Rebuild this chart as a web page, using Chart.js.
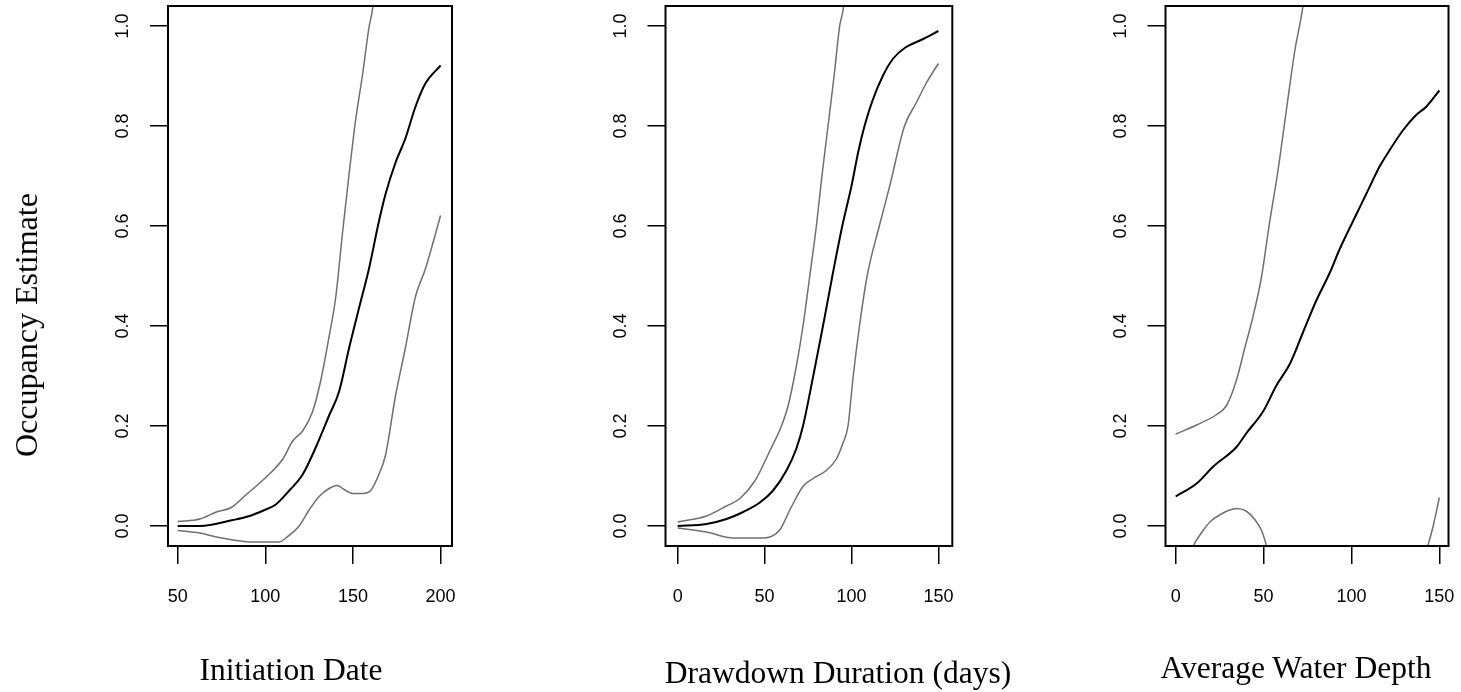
<!DOCTYPE html>
<html><head><meta charset="utf-8">
<script src="https://cdn.jsdelivr.net/npm/chart.js@4.4.1/dist/chart.umd.min.js"></script>
<style>
html,body{margin:0;padding:0;background:#fff;}
#wrap{position:relative;width:1461px;height:692px;overflow:hidden;background:#fff;}
canvas{position:absolute;top:0;}
.t{position:absolute;font-family:'Liberation Serif','Times New Roman',serif;font-size:31.5px;line-height:1;white-space:nowrap;color:#000;}
</style></head><body>
<div id="wrap">
<canvas id="c1" width="480" height="692" style="left:0px"></canvas>
<canvas id="c2" width="480" height="692" style="left:490px"></canvas>
<canvas id="c3" width="481" height="692" style="left:980px"></canvas>
<div class="t" style="left:26px;top:325px;font-size:32px;transform:translate(-50%,-50%) rotate(-90deg)">Occupancy Estimate</div>
<div class="t" style="left:291px;top:653.6px;transform:translateX(-50%)">Initiation Date</div>
<div class="t" style="left:838px;top:656.6px;transform:translateX(-50%)">Drawdown Duration (days)</div>
<div class="t" style="left:1296px;top:651.6px;transform:translateX(-50%)">Average Water Depth</div>
</div>
<script>
// ---- tick values / labels ----
const yTicks = [0, 0.2, 0.4, 0.6, 0.8, 1.0];
const yTickLabels = ['0.0', '0.2', '0.4', '0.6', '0.8', '1.0'];
const initTicks = [50, 100, 150, 200];
const ddTicks = [0, 50, 100, 150];
const wdTicks = [0, 50, 100, 150];

// ---- Panel 1: Initiation Date ----
const initMeanX = [50, 62.7, 81.6, 91, 99.6, 106, 113.7, 121.3, 128.9, 136.4, 142.1, 147.8, 153.4, 159.1, 164.8, 168.6, 174.3, 179.9, 185.6, 191.3, 200];
const initMean  = [0.0, 0.0, 0.012, 0.02, 0.032, 0.043, 0.071, 0.103, 0.158, 0.221, 0.269, 0.356, 0.435, 0.514, 0.609, 0.664, 0.727, 0.775, 0.838, 0.885, 0.921];
const initUpperX = [50, 62.7, 72.1, 80.6, 89.2, 99.6, 110, 115.6, 121.3, 127, 131.7, 136.4, 140.2, 144, 147.8, 151.6, 155.4, 159.1, 161.4, 164];
const initUpper  = [0.009, 0.014, 0.028, 0.037, 0.063, 0.095, 0.134, 0.170, 0.190, 0.229, 0.292, 0.379, 0.458, 0.585, 0.704, 0.814, 0.901, 0.996, 1.04, 1.15];
const initLowerX = [50, 62.7, 72.1, 81.6, 91, 108, 111.7, 119.3, 125, 130.7, 136.4, 141.1, 144.9, 149.6, 155.4, 160.1, 164.8, 168.6, 174.3, 179.9, 185.6, 191.3, 200];
const initLower  = [-0.009, -0.014, -0.022, -0.028, -0.032, -0.032, -0.024, 0.0, 0.032, 0.059, 0.075, 0.081, 0.073, 0.065, 0.065, 0.071, 0.103, 0.142, 0.261, 0.356, 0.458, 0.514, 0.621];

// ---- Panel 2: Drawdown Duration (days) ----
const ddMeanX = [0, 16.6, 28.1, 37.7, 47.3, 54.9, 62.6, 68.3, 72.1, 78, 83.6, 89, 94.7, 100, 104, 107.5, 112, 118, 124, 131, 140, 150];
const ddMean  = [0.0, 0.004, 0.014, 0.028, 0.047, 0.071, 0.111, 0.155, 0.2, 0.3, 0.4, 0.5, 0.6, 0.68, 0.75, 0.8, 0.85, 0.9, 0.935, 0.957, 0.972, 0.99];
const ddUpperX = [0, 16.6, 28.1, 35.8, 44.4, 53, 59.7, 63.5, 68.3, 72.1, 76, 79.8, 83, 86.5, 90, 93.2, 95.5, 98];
const ddUpper  = [0.008, 0.02, 0.04, 0.055, 0.09, 0.15, 0.2, 0.24, 0.32, 0.4, 0.5, 0.6, 0.7, 0.8, 0.9, 1.0, 1.04, 1.15];
const ddLowerX = [0, 16.6, 32, 48.2, 58.7, 64.5, 72.1, 77.9, 85.5, 91.3, 95, 98, 101, 104.6, 109, 116, 122, 130.5, 137.2, 142.9, 150];
const ddLower  = [-0.004, -0.012, -0.024, -0.024, -0.008, 0.032, 0.079, 0.095, 0.111, 0.134, 0.165, 0.2, 0.3, 0.4, 0.5, 0.6, 0.68, 0.8, 0.846, 0.885, 0.925];

// ---- Panel 3: Average Water Depth ----
const wdMeanX = [0, 11.9, 21.4, 34.6, 40.3, 49.7, 57.3, 64.9, 72.4, 80, 87.6, 93.2, 100.8, 108.4, 116, 121.6, 129.2, 136.8, 142.4, 150];
const wdMean  = [0.059, 0.085, 0.119, 0.158, 0.186, 0.229, 0.281, 0.324, 0.387, 0.451, 0.506, 0.553, 0.609, 0.664, 0.719, 0.751, 0.791, 0.822, 0.838, 0.871];
const wdUpperX = [0, 11.9, 23.3, 28.9, 34.6, 39.3, 44, 48.8, 53.5, 58.2, 62.9, 67.7, 72.4, 76];
const wdUpper  = [0.184, 0.202, 0.223, 0.241, 0.292, 0.356, 0.419, 0.498, 0.609, 0.711, 0.830, 0.949, 1.04, 1.15];
const wdLowerX = [0, 5, 10, 15, 20, 25, 30, 34.7, 40, 45, 49, 51.7, 56, 70, 100, 130, 140, 143.4, 146.5, 150];
const wdLower  = [-0.16, -0.09, -0.04, -0.012, 0.01, 0.022, 0.031, 0.035, 0.03, 0.013, -0.01, -0.04, -0.1, -0.25, -0.35, -0.18, -0.08, -0.04, 0.0, 0.057];

function pts(xs, ys) { return xs.map((x, i) => ({ x: x, y: ys[i] })); }

const boxPlugin = {
  id: 'rbox',
  afterDatasetsDraw(chart) {
    const a = chart.chartArea, ctx = chart.ctx;
    ctx.save();
    ctx.strokeStyle = '#000';
    ctx.lineWidth = 2;
    ctx.strokeRect(a.left, a.top, a.right - a.left, a.bottom - a.top);
    ctx.restore();
  }
};

const TICK_FONT = { family: "'Liberation Sans', Arial, sans-serif", size: 18 };
const PLOT_TOP = 6, PLOT_BOTTOM = 546;

function makePanel(id, p) {
  const canvas = document.getElementById(id);
  const W = canvas.width, H = canvas.height;
  const gray = { borderColor: '#6f6f6f', borderWidth: 1.5, pointRadius: 0, fill: false };
  new Chart(canvas, {
    type: 'line',
    data: {
      datasets: [
        Object.assign({ data: pts(p.upperX, p.upper) }, gray),
        Object.assign({ data: pts(p.lowerX, p.lower) }, gray),
        { data: pts(p.meanX, p.mean), borderColor: '#000', borderWidth: 2, pointRadius: 0, fill: false }
      ]
    },
    options: {
      responsive: false,
      animation: false,
      devicePixelRatio: 1,
      layout: { padding: { left: 0, top: PLOT_TOP, right: W - p.right, bottom: 0 } },
      plugins: { legend: { display: false }, tooltip: { enabled: false } },
      elements: { point: { radius: 0 }, line: { cubicInterpolationMode: 'monotone' } },
      scales: {
        x: {
          type: 'linear', min: p.xmin, max: p.xmax,
          afterBuildTicks: s => { s.ticks = p.ticks.map(v => ({ value: v })); },
          afterFit: s => { s.height = H - PLOT_BOTTOM; s.paddingLeft = 0; s.paddingRight = 0; },
          border: { display: false },
          grid: { display: true, drawOnChartArea: false, drawTicks: true, tickLength: 18, color: '#000', lineWidth: 1.5 },
          ticks: { autoSkip: false, minRotation: 0, maxRotation: 0, padding: 22, color: '#000', font: TICK_FONT,
                   callback: v => String(v) }
        },
        y: {
          type: 'linear', min: -0.04, max: 1.04,
          afterBuildTicks: s => { s.ticks = yTicks.map(v => ({ value: v })); },
          afterFit: s => { s.width = p.left; s.paddingTop = 0; s.paddingBottom = 0; },
          border: { display: false },
          grid: { display: true, drawOnChartArea: false, drawTicks: true, tickLength: 18, color: '#000', lineWidth: 1.5 },
          ticks: { autoSkip: false, minRotation: 90, maxRotation: 90, crossAlign: 'center', padding: 14, color: '#000', font: TICK_FONT,
                   callback: v => yTickLabels[yTicks.indexOf(v)] }
        }
      }
    },
    plugins: [boxPlugin]
  });
}

makePanel('c1', { left: 168, right: 452, xmin: 44.5, xmax: 206.5, ticks: initTicks,
  meanX: initMeanX, mean: initMean, upperX: initUpperX, upper: initUpper, lowerX: initLowerX, lower: initLower });
makePanel('c2', { left: 175.5, right: 462.3, xmin: -7, xmax: 158, ticks: ddTicks,
  meanX: ddMeanX, mean: ddMean, upperX: ddUpperX, upper: ddUpper, lowerX: ddLowerX, lower: ddLower });
makePanel('c3', { left: 185.5, right: 468.5, xmin: -5.8, xmax: 155.2, ticks: wdTicks,
  meanX: wdMeanX, mean: wdMean, upperX: wdUpperX, upper: wdUpper, lowerX: wdLowerX, lower: wdLower });
</script>
</body></html>
